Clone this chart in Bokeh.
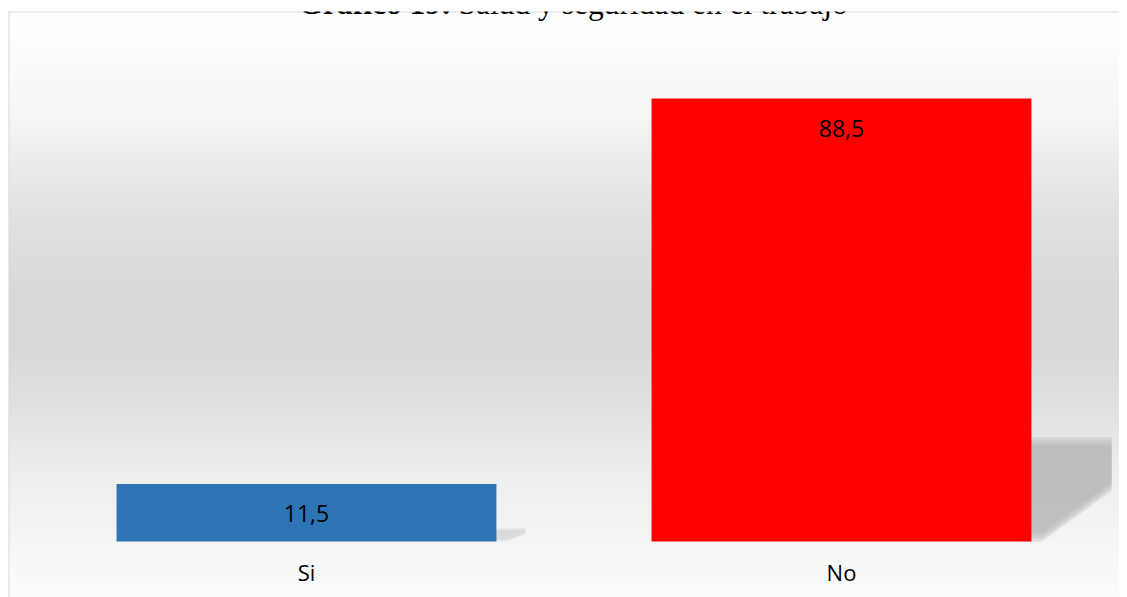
import numpy as np
from bokeh.plotting import figure
from bokeh.models import ColumnDataSource, Range1d, Label, Span
from bokeh.core.properties import value
from bokeh.embed import file_html
from bokeh.resources import INLINE

# ---- data ----
categories = ["Si", "No"]
percentages = [11.5, 88.5]
value_labels = ["11,5", "88,5"]
bar_colors = ["#2e75b6", "#ff0000"]
title_bold = "Gráfico 19:"
title_rest = "Salud y seguridad en el trabajo"

# ---- layout / style ----
W, H = 1111, 609
X0 = -0.557
X1 = X0 + W / 535.0
Y0, Y1 = -11.19, 105.87
BAR_W = 0.71

p = figure(width=W, height=H, output_backend="svg", toolbar_location=None,
           x_range=Range1d(X0, X1), y_range=Range1d(Y0, Y1),
           min_border_left=0, min_border_right=0, min_border_top=23,
           min_border_bottom=0, margin=(-12, -8, -8, 8))
p.axis.visible = False
p.grid.visible = False
p.outline_line_color = None
p.background_fill_color = "white"
p.border_fill_color = "white"

# background vertical gradient (page-y stops -> gray level)
stop_y = [11, 40, 80, 120, 160, 220, 300, 340, 400, 440, 480, 540, 597]
stop_v = [255, 254, 249, 245, 236, 225, 217, 217, 224, 232, 239, 245, 253]
N = 586
page_y = 597 - (np.arange(N) + 0.5)
gray = np.interp(page_y, stop_y, stop_v).astype(np.uint8)
img = np.empty((N, 1), dtype=np.uint32)
view = img.view(dtype=np.uint8).reshape((N, 1, 4))
view[:, 0, 0] = gray
view[:, 0, 1] = gray
view[:, 0, 2] = gray
view[:, 0, 3] = 255
p.image_rgba(image=[img], x=X0, y=Y0, dw=X1 - X0, dh=Y1 - Y0)

# perspective shadows, derived from bar values
vmax = max(percentages)
for layer in range(4):
    for i, v in enumerate(percentages):
        s = min(1.0, v / 40.0)
        d = layer * 0.6 * s
        xr = i + BAR_W / 2
        dx = 0.15 * np.sqrt(v / vmax)
        top = 0.235 * v - d
        yb = 0.115 * v + d
        alpha = 0.35 if v > 40 else 0.1
        p.patch(x=[xr - 0.02, xr + dx, xr + dx, xr + 0.02, xr - 0.02],
                y=[top, top, yb, d, d], fill_color="#b4b4b4",
                fill_alpha=alpha, line_color=None)

src = ColumnDataSource(dict(
    x=list(range(len(categories))), top=percentages, cat=categories,
    lab=value_labels, color=bar_colors,
))
p.vbar(x="x", top="top", bottom=0, width=BAR_W, fill_color="color",
       line_color=None, source=src)

p.text(x="x", y="top", text="lab", y_offset=30, text_align="center",
       text_baseline="middle", text_font=value("Open Sans"),
       text_font_size="23px", text_color="black", source=src)
p.text(x="x", y=0, text="cat", y_offset=31, text_align="center",
       text_baseline="middle", text_font=value("Open Sans"),
       text_font_size="22px", text_color="black", source=src)

# chart-area border (top and left)
p.add_layout(Span(location=Y1, dimension="width", line_color="#d9d9d9", line_width=2))
p.add_layout(Span(location=X0, dimension="height", line_color="#d9d9d9", line_width=2))

# title (partly cut off at the top of the page, as in the reference)
p.add_layout(Label(x=-0.0149, y=107.4, text=title_bold, text_font="Liberation Serif",
                   text_font_style="bold", text_font_size="31.5px",
                   text_baseline="alphabetic", text_color="black"))
p.add_layout(Label(x=0.284, y=107.4, text=title_rest, text_font="Liberation Serif",
                   text_font_size="31.5px", text_baseline="alphabetic",
                   text_color="black"))

open("out.html", "w").write(file_html(p, INLINE))
